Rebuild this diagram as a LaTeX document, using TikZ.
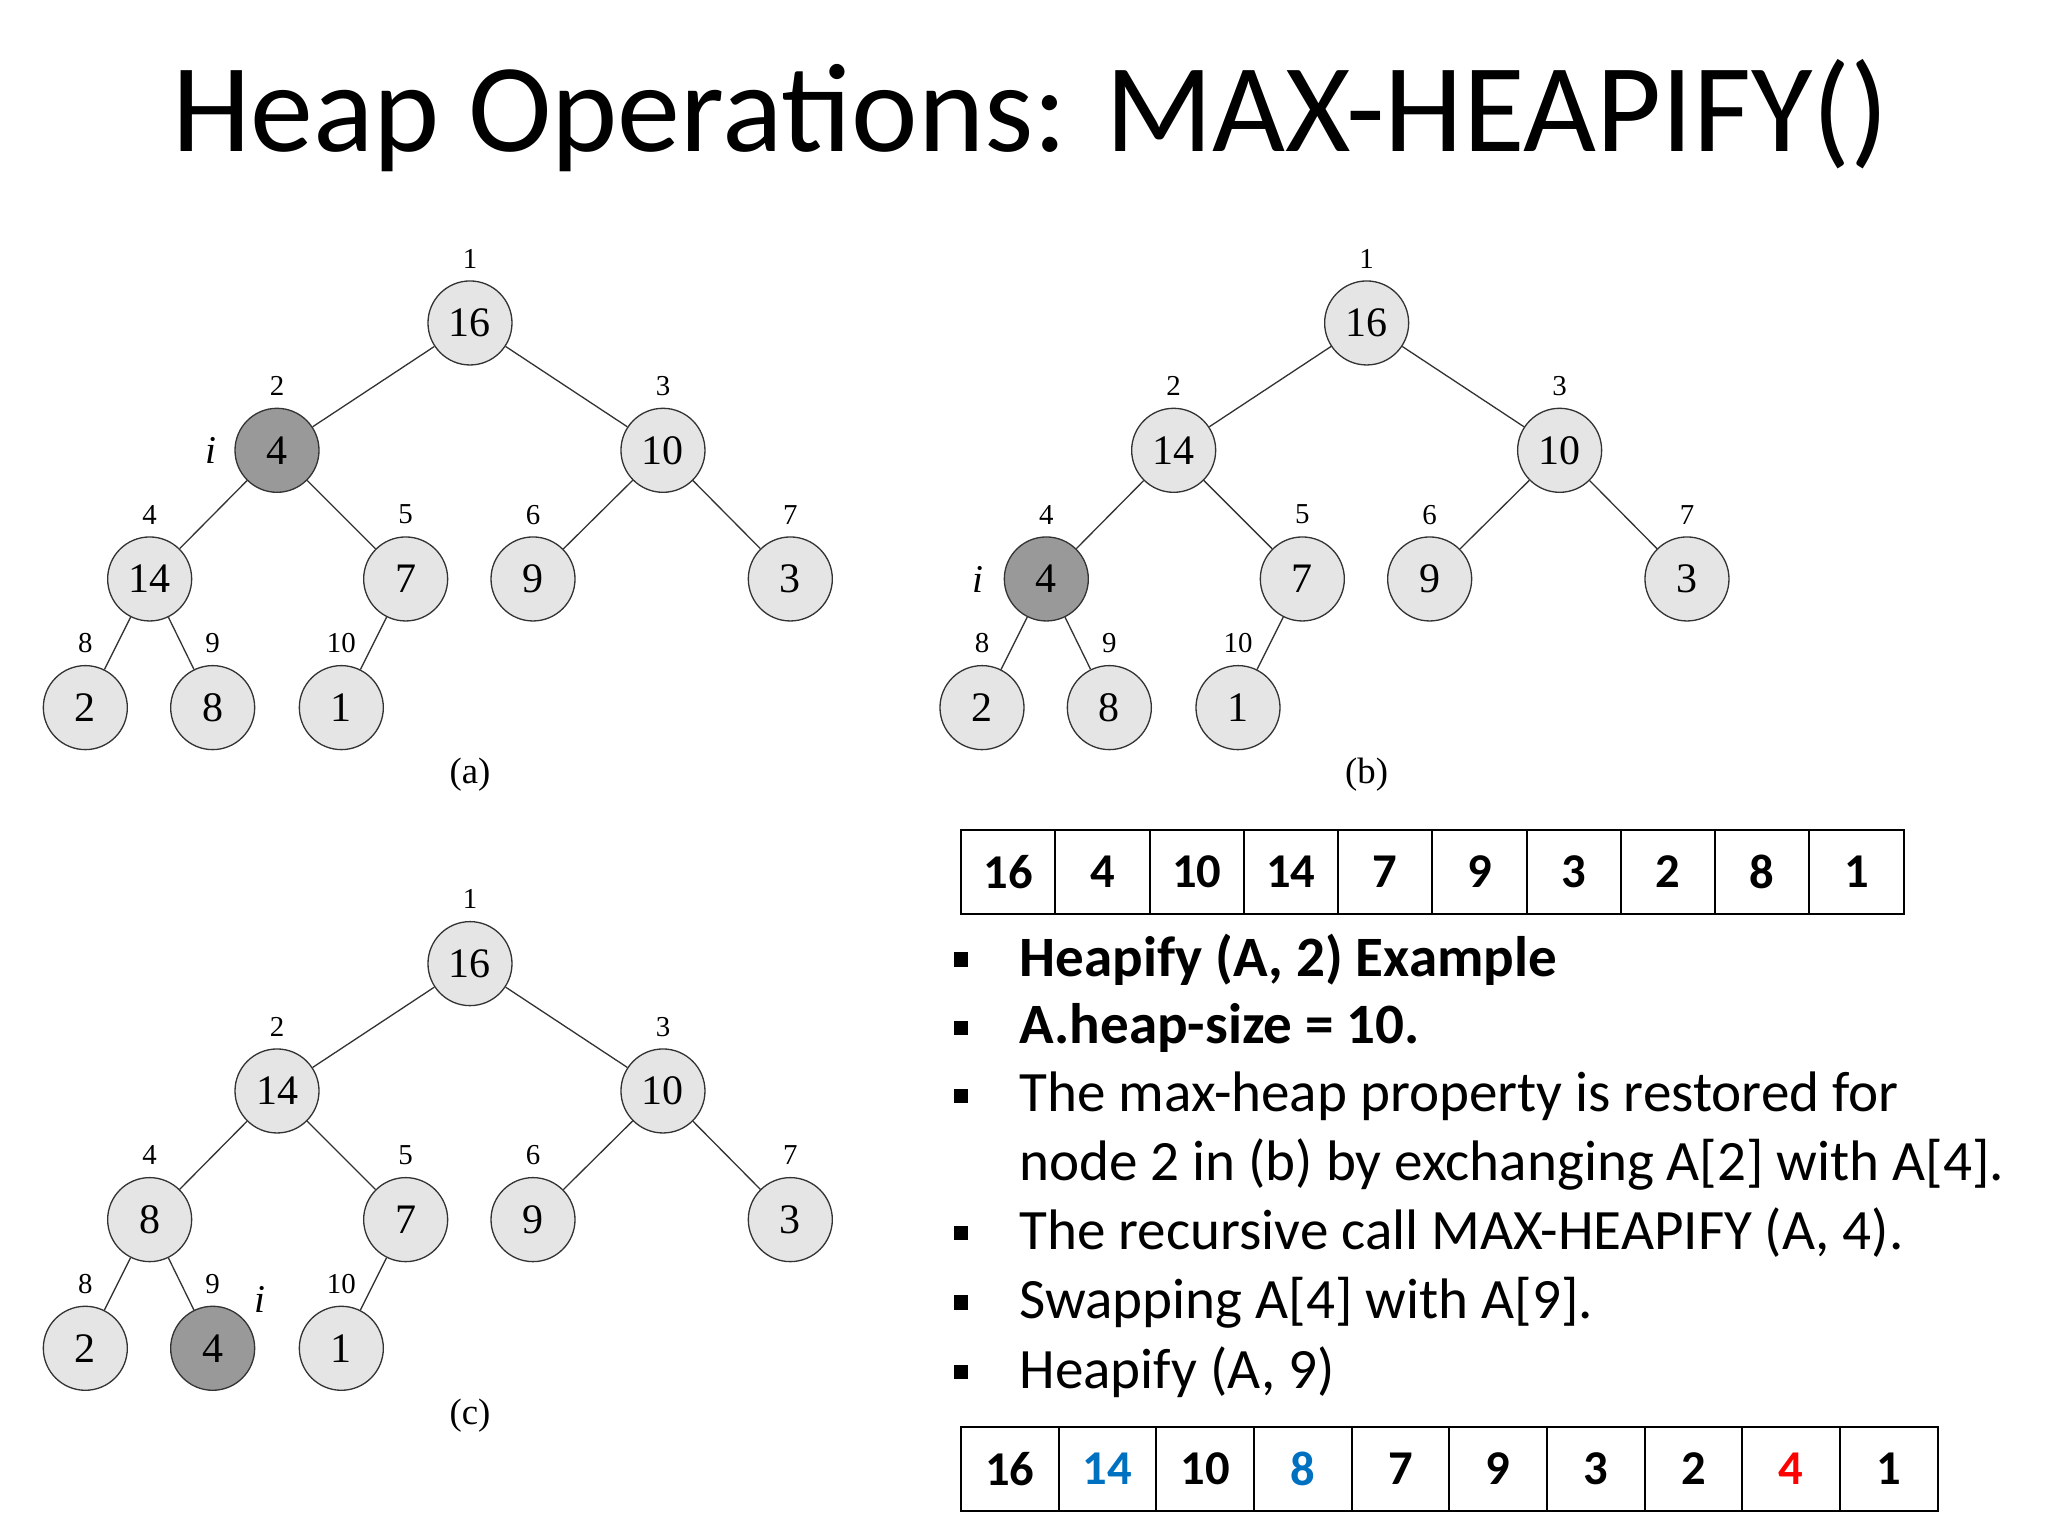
\documentclass[tikz,border=0pt]{standalone}
\usepackage{fontspec}
\setmainfont{Carlito}
\newfontfamily\tms{Liberation Serif}
\definecolor{lg}{gray}{0.9}
\definecolor{dg}{gray}{0.6}
\definecolor{bl}{RGB}{0,112,192}
\newcommand{\mytree}[4]{%
\begin{scope}[shift={(#2,#3)}]
\foreach \n/\x/\y/\v/\f in {#4}{
 \node[hn,fill=\f] (#1\n) at (\x,\y) {\v};
 \node[idx] (#1l\n) at (\x,\y-49) {\n};
}
\foreach \p/\c in {1/2,1/3,2/4,2/5,3/6,3/7,4/8,4/9,5/10}{
 \draw[edge] (#1\p) -- (#1\c);
}
\end{scope}}
\begin{document}
\begin{tikzpicture}[x=1pt,y=-1pt,
 hn/.style={circle,draw=black!80,line width=1pt,minimum size=64pt,inner sep=0pt,font=\tms\fontsize{32}{32}\selectfont},
 idx/.style={font=\tms\fontsize{22}{22}\selectfont,fill=white,inner sep=1pt},
 edge/.style={line width=1pt,black!80},
 cell/.style={draw,line width=1.5pt,minimum height=64pt,inner sep=0pt,font=\bfseries\fontsize{37}{37}\selectfont},
 bt/.style={anchor=west,font=\fontsize{43.5}{43.5}\selectfont},
 bul/.style={fill=black,minimum size=11pt,inner sep=0pt}]
\useasboundingbox (0,0) rectangle (1560,1170);
\node (title) at (785,88) {\fontsize{96}{96}\selectfont Heap Operations: MAX-HEAPIFY()};
\mytree{a}{0}{0}{1/358/246/16/lg,2/211/343/4/dg,3/505/343/10/lg,4/114/441/14/lg,5/309/441/7/lg,6/406/441/9/lg,7/602/441/3/lg,8/65/539/2/lg,9/162/539/8/lg,10/260/539/1/lg}
\mytree{b}{683}{0}{1/358/246/16/lg,2/211/343/14/lg,3/505/343/10/lg,4/114/441/4/dg,5/309/441/7/lg,6/406/441/9/lg,7/602/441/3/lg,8/65/539/2/lg,9/162/539/8/lg,10/260/539/1/lg}
\mytree{c}{0}{488}{1/358/246/16/lg,2/211/343/14/lg,3/505/343/10/lg,4/114/441/8/lg,5/309/441/7/lg,6/406/441/9/lg,7/602/441/3/lg,8/65/539/2/lg,9/162/539/4/dg,10/260/539/1/lg}
\node[font=\tms\itshape\fontsize{30}{30}\selectfont] (ia) at (161,343) {i};
\node[font=\tms\itshape\fontsize{30}{30}\selectfont] (ib) at (745,441) {i};
\node[font=\tms\itshape\fontsize{30}{30}\selectfont] (ic) at (198,990) {i};
\node[font=\tms\fontsize{28}{28}\selectfont] (capa) at (358,590) {(a)};
\node[font=\tms\fontsize{28}{28}\selectfont] (capb) at (1041,590) {(b)};
\node[font=\tms\fontsize{28}{28}\selectfont] (capc) at (358,1078) {(c)};
\foreach \v [count=\i] in {16,4,10,14,7,9,3,2,8,1}{
 \node[cell,minimum width=71.8pt] (t\i) at ({732+71.8*(\i-0.5)},664) {\v};
}
\foreach \v/\c [count=\i] in {16/black,14/bl,10/black,8/bl,7/black,9/black,3/black,2/black,4/red,1/black}{
 \node[cell,minimum width=74.4pt,text=\c] (u\i) at ({732+74.4*(\i-0.5)},1119) {\v};
}
\foreach \y/\t [count=\k] in {731/{\bfseries Heapify (A, 2) Example},783/{\bfseries A.heap-size = 10.},835/{The max-heap property is restored for},939/{The recursive call MAX-HEAPIFY (A, 4).},992/{Swapping A[4] with A[9].},1045/{Heapify (A, 9)}}{
 \node[bul] (bu\k) at (732,\y) {};
 \node[bt] (tx\k) at (773,\y) {\t};
}
\node[bt] (tx7) at (773,887) {node 2 in (b) by exchanging A[2] with A[4].};
\end{tikzpicture}
\end{document}
